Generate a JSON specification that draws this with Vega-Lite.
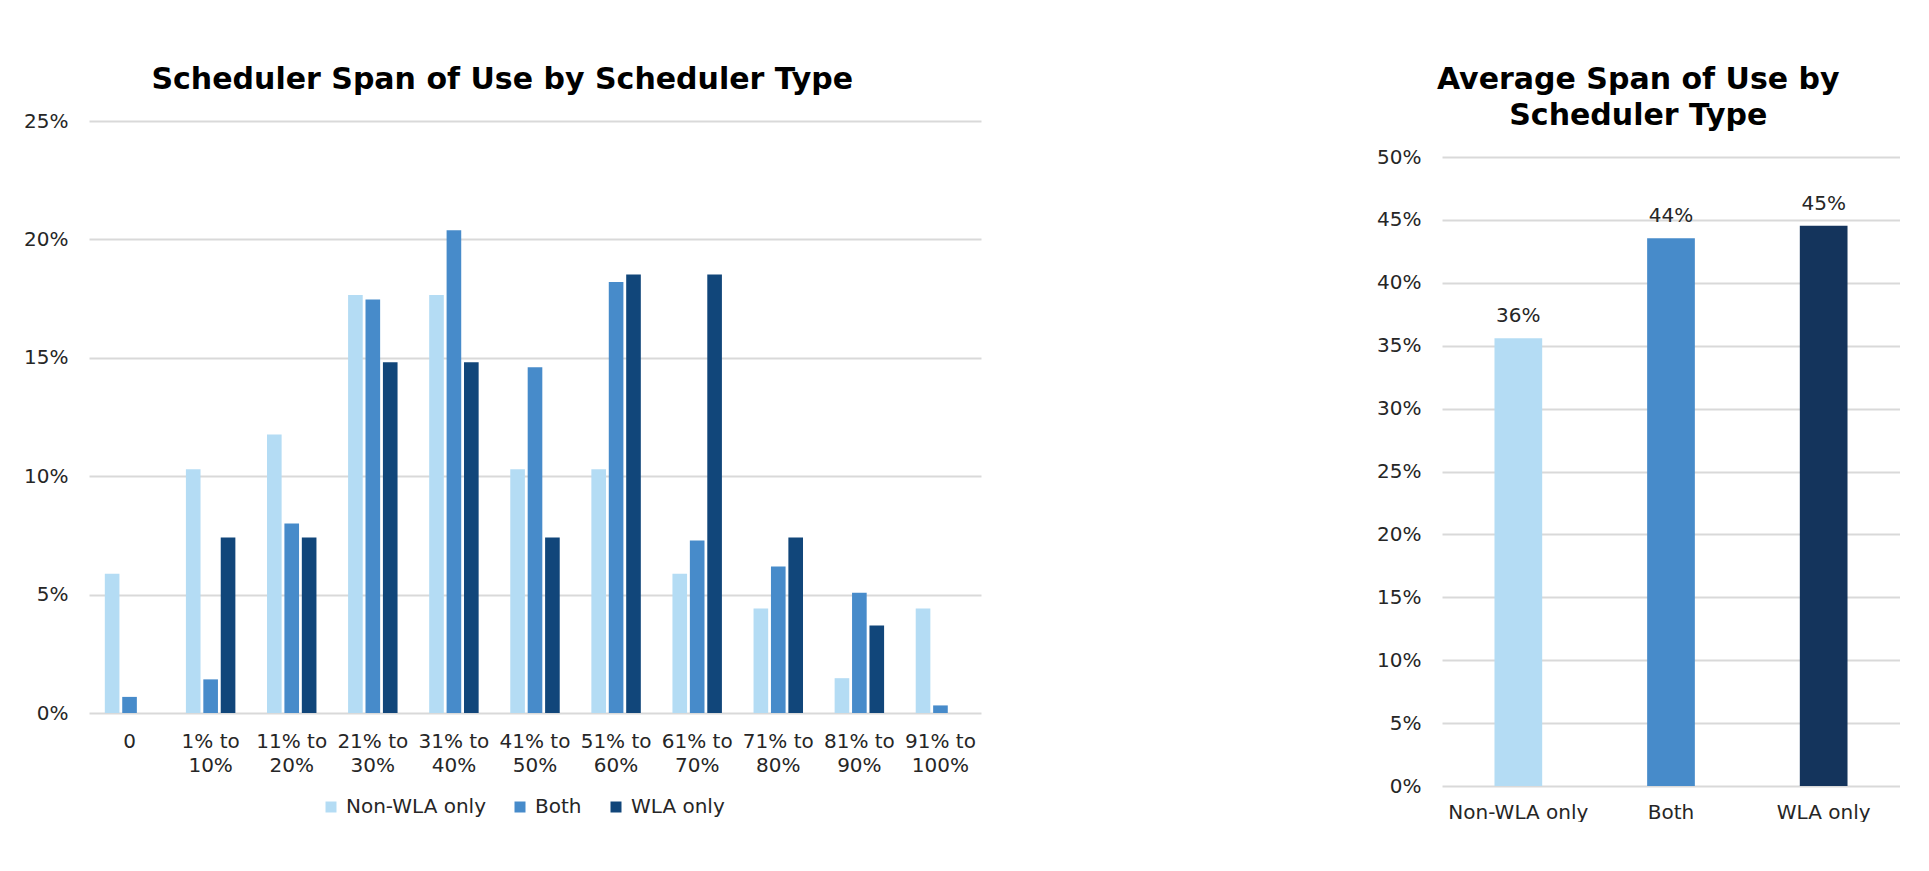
{
  "$schema": "https://vega.github.io/schema/vega-lite/v6.json",
  "padding": {"left": 23, "top": 65, "right": 0, "bottom": 0},
  "background": "#ffffff",
  "config": {
    "font": "DejaVu Sans",
    "view": {"stroke": null},
    "axis": {
      "labelFont": "DejaVu Sans",
      "labelFontSize": 20,
      "labelColor": "#262626",
      "domain": false,
      "ticks": false,
      "tickSize": 0,
      "gridColor": "#d9d9d9",
      "gridWidth": 2
    },
    "title": {
      "font": "DejaVu Sans",
      "fontSize": 30,
      "fontWeight": "bold",
      "color": "#000000",
      "anchor": "middle",
      "frame": "bounds"
    }
  },
  "spacing": 395,
  "resolve": {"scale": {"color": "independent"}, "legend": {"color": "independent"}},
  "hconcat": [
    {
      "width": 892,
      "height": 592,
      "title": {"text": "Scheduler Span of Use by Scheduler Type", "offset": 16},
      "data": {
        "values": [
          {"range": "0", "type": "Non-WLA only", "pct": 0.0588},
          {"range": "0", "type": "Both", "pct": 0.0068},
          {"range": "0", "type": "WLA only", "pct": 0},
          {"range": "1% to 10%", "type": "Non-WLA only", "pct": 0.1029},
          {"range": "1% to 10%", "type": "Both", "pct": 0.0142},
          {"range": "1% to 10%", "type": "WLA only", "pct": 0.0741},
          {"range": "11% to 20%", "type": "Non-WLA only", "pct": 0.1176},
          {"range": "11% to 20%", "type": "Both", "pct": 0.08},
          {"range": "11% to 20%", "type": "WLA only", "pct": 0.0741},
          {"range": "21% to 30%", "type": "Non-WLA only", "pct": 0.1765},
          {"range": "21% to 30%", "type": "Both", "pct": 0.1746},
          {"range": "21% to 30%", "type": "WLA only", "pct": 0.1481},
          {"range": "31% to 40%", "type": "Non-WLA only", "pct": 0.1765},
          {"range": "31% to 40%", "type": "Both", "pct": 0.2039},
          {"range": "31% to 40%", "type": "WLA only", "pct": 0.1481},
          {"range": "41% to 50%", "type": "Non-WLA only", "pct": 0.1029},
          {"range": "41% to 50%", "type": "Both", "pct": 0.146},
          {"range": "41% to 50%", "type": "WLA only", "pct": 0.0741},
          {"range": "51% to 60%", "type": "Non-WLA only", "pct": 0.1029},
          {"range": "51% to 60%", "type": "Both", "pct": 0.182},
          {"range": "51% to 60%", "type": "WLA only", "pct": 0.1852},
          {"range": "61% to 70%", "type": "Non-WLA only", "pct": 0.0588},
          {"range": "61% to 70%", "type": "Both", "pct": 0.0728},
          {"range": "61% to 70%", "type": "WLA only", "pct": 0.1852},
          {"range": "71% to 80%", "type": "Non-WLA only", "pct": 0.0441},
          {"range": "71% to 80%", "type": "Both", "pct": 0.0619},
          {"range": "71% to 80%", "type": "WLA only", "pct": 0.0741},
          {"range": "81% to 90%", "type": "Non-WLA only", "pct": 0.0147},
          {"range": "81% to 90%", "type": "Both", "pct": 0.0508},
          {"range": "81% to 90%", "type": "WLA only", "pct": 0.037},
          {"range": "91% to 100%", "type": "Non-WLA only", "pct": 0.0441},
          {"range": "91% to 100%", "type": "Both", "pct": 0.0032},
          {"range": "91% to 100%", "type": "WLA only", "pct": 0}
        ]
      },
      "mark": {"type": "bar"},
      "encoding": {
        "x": {
          "field": "range",
          "type": "nominal",
          "sort": null,
          "scale": {"paddingInner": 0.39, "paddingOuter": 0.195},
          "axis": {
            "title": null,
            "labelAngle": 0,
            "labelPadding": 18,
            "labelLineHeight": 24,
            "labelBaseline": "top",
            "grid": false,
            "labelExpr": "indexof(datum.value, ' to ') > 0 ? [substring(datum.value, 0, indexof(datum.value, ' to ') + 3), substring(datum.value, indexof(datum.value, ' to ') + 4)] : datum.value"
          }
        },
        "xOffset": {
          "field": "type",
          "type": "nominal",
          "sort": ["Non-WLA only", "Both", "WLA only"],
          "scale": {"paddingInner": 0.16}
        },
        "y": {
          "field": "pct",
          "type": "quantitative",
          "scale": {"domain": [0, 0.25]},
          "axis": {
            "title": null,
            "format": ".0%",
            "values": [0, 0.05, 0.1, 0.15, 0.2, 0.25],
            "labelPadding": 21
          }
        },
        "color": {
          "field": "type",
          "type": "nominal",
          "sort": ["Non-WLA only", "Both", "WLA only"],
          "scale": {
            "domain": ["Non-WLA only", "Both", "WLA only"],
            "range": ["#B4DCF4", "#478BCA", "#11467A"]
          },
          "legend": {
            "title": null,
            "orient": "none",
            "legendX": 232,
            "legendY": 676,
            "direction": "horizontal",
            "symbolType": "square",
            "symbolSize": 121,
            "symbolStrokeWidth": 0,
            "labelFontSize": 20,
            "labelFont": "DejaVu Sans",
            "labelColor": "#262626",
            "labelOffset": 5,
            "columnPadding": 24
          }
        }
      }
    },
    {
      "width": 458,
      "height": 665,
      "title": {"text": ["Average Span of Use by", "Scheduler Type"], "offset": -10, "lineHeight": 36},
      "data": {
        "values": [
          {"type": "Non-WLA only", "avg": 0.356},
          {"type": "Both", "avg": 0.4355},
          {"type": "WLA only", "avg": 0.4455}
        ]
      },
      "encoding": {
        "x": {
          "field": "type",
          "type": "nominal",
          "sort": null,
          "scale": {"paddingInner": 0.6875, "paddingOuter": 0.34375},
          "axis": {"title": null, "labelAngle": 0, "labelPadding": 16, "grid": false}
        },
        "y": {
          "field": "avg",
          "type": "quantitative",
          "scale": {"domain": [0, 0.5287], "nice": false},
          "axis": {
            "title": null,
            "format": ".0%",
            "values": [0, 0.05, 0.1, 0.15, 0.2, 0.25, 0.3, 0.35, 0.4, 0.45, 0.5],
            "labelPadding": 21
          }
        }
      },
      "layer": [
        {
          "mark": {"type": "bar"},
          "encoding": {
            "color": {
              "field": "type",
              "type": "nominal",
              "scale": {
                "domain": ["Non-WLA only", "Both", "WLA only"],
                "range": ["#B4DCF4", "#478BCA", "#14345C"]
              },
              "legend": null
            }
          }
        },
        {
          "mark": {"type": "text", "dy": -16, "baseline": "alphabetic", "fontSize": 20, "font": "DejaVu Sans", "color": "#262626"},
          "encoding": {"text": {"field": "avg", "type": "quantitative", "format": ".0%"}}
        }
      ]
    }
  ]
}
